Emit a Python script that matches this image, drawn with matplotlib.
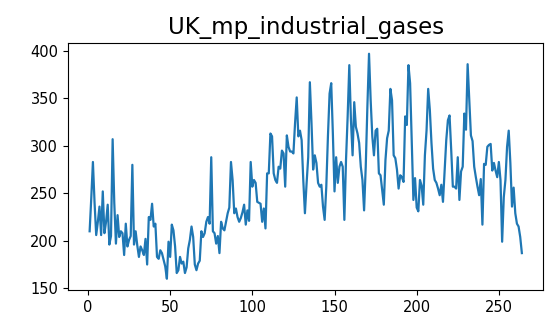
import matplotlib
matplotlib.use("Agg")
import matplotlib.pyplot as plt

title = "UK_mp_industrial_gases"
x_start = 1
values = [
    210, 245, 283, 240, 206, 220, 236, 206, 252, 208,
    220, 238, 196, 205, 307, 240, 197, 227, 204, 210,
    208, 185, 218, 194, 201, 205, 280, 196, 210, 195,
    183, 194, 190, 185, 202, 175, 225, 222, 239, 215,
    218, 183, 181, 190, 187, 180, 173, 160, 199, 183,
    217, 211, 194, 166, 169, 183, 176, 178, 166, 172,
    192, 201, 215, 204, 175, 169, 176, 179, 210, 204,
    208, 220, 225, 218, 288, 210, 208, 197, 205, 187,
    220, 213, 211, 220, 229, 235, 283, 264, 229, 234,
    225, 220, 224, 230, 238, 217, 232, 221, 283, 257,
    264, 261, 241, 240, 239, 220, 234, 213, 271, 271,
    313, 310, 271, 264, 261, 278, 276, 295, 292, 257,
    311, 299, 294, 294, 292, 324, 351, 310, 316, 306,
    264, 229, 260, 288, 367, 324, 275, 290, 282, 261,
    257, 259, 236, 222, 257, 310, 355, 366, 313, 252,
    288, 261, 278, 283, 278, 222, 285, 331, 385, 327,
    290, 346, 320, 313, 303, 278, 264, 232, 278, 341,
    397, 348, 310, 290, 316, 318, 271, 269, 253, 238,
    285, 308, 316, 360, 348, 290, 287, 275, 255, 269,
    267, 262, 331, 322, 385, 366, 306, 243, 266, 235,
    231, 264, 258, 238, 290, 316, 360, 338, 303, 276,
    264, 261, 255, 248, 259, 241, 274, 306, 327, 332,
    296, 257, 257, 255, 288, 243, 273, 278, 334, 317,
    386, 348, 311, 305, 278, 267, 257, 248, 265, 217,
    281, 280, 299, 301, 302, 274, 282, 274, 267, 283,
    264, 199, 246, 264, 299, 316, 282, 236, 256, 229,
    218, 215, 204, 187,
]
x = list(range(x_start, x_start + len(values)))

fig = plt.figure(figsize=(5.45, 3.22), dpi=100)
ax = fig.add_axes([0.1248, 0.0994, 0.8724, 0.7686])
ax.plot(x, values, color="#1f77b4", linewidth=1.6)
ax.set_title(title, fontsize=16.5)
ax.tick_params(labelsize=10.5)
fig.savefig("out.png", dpi=100)
